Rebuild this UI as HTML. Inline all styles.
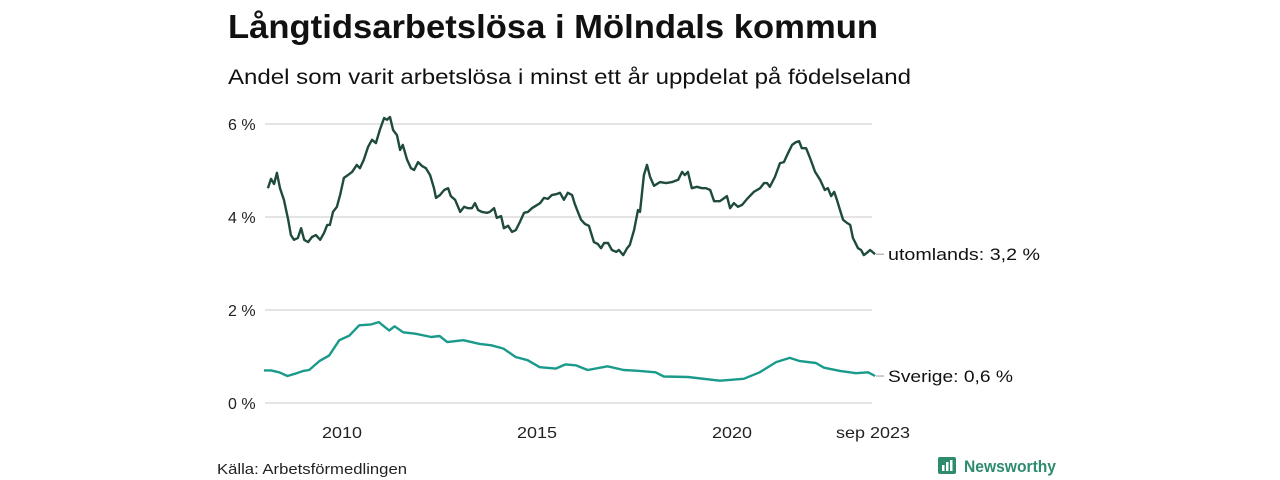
<!DOCTYPE html>
<html><head><meta charset="utf-8"><style>
body{margin:0;background:#fff;width:1280px;height:480px;overflow:hidden;font-family:"Liberation Sans",sans-serif}
svg{position:absolute;left:0;top:0}
</style></head><body>
<svg width="1280" height="480">
<text x="228" y="38" font-size="33" font-weight="bold" fill="#111" textLength="650" lengthAdjust="spacingAndGlyphs">Långtidsarbetslösa i Mölndals kommun</text>
<text x="228" y="84" font-size="21" fill="#111" textLength="683" lengthAdjust="spacingAndGlyphs">Andel som varit arbetslösa i minst ett år uppdelat på födelseland</text>
<g id="grid"></g><g id="series"></g>
<text x="217" y="474" font-size="15" fill="#222" textLength="190" lengthAdjust="spacingAndGlyphs">Källa: Arbetsförmedlingen</text>
<g>
<rect x="938" y="457" width="18" height="17" rx="2" fill="#2e8b6e"/>
<rect x="942" y="465" width="2.5" height="6" fill="#fff"/><rect x="946" y="462" width="2.5" height="9" fill="#fff"/><rect x="950" y="460" width="2.5" height="11" fill="#fff"/>
<text x="964" y="472" font-size="17" font-weight="bold" fill="#2e8b6e" textLength="92" lengthAdjust="spacingAndGlyphs">Newsworthy</text>
</g>
</svg>
<script>
const yTicks=[0,2,4,6];
const xTicks=[2010,2015,2020];
const lastLabel="sep 2023";
const utlDates=[2008.10,2008.18,2008.26,2008.33,2008.41,2008.51,2008.62,2008.69,2008.77,2008.87,2008.95,2009.03,2009.13,2009.23,2009.33,2009.44,2009.54,2009.62,2009.69,2009.77,2009.87,2009.95,2010.05,2010.15,2010.26,2010.38,2010.46,2010.56,2010.67,2010.77,2010.87,2010.97,2011.08,2011.15,2011.23,2011.31,2011.41,2011.49,2011.56,2011.67,2011.77,2011.85,2011.95,2012.05,2012.15,2012.26,2012.36,2012.41,2012.51,2012.62,2012.72,2012.79,2012.90,2013.03,2013.13,2013.23,2013.33,2013.41,2013.49,2013.59,2013.72,2013.79,2013.90,2013.97,2014.08,2014.15,2014.26,2014.36,2014.46,2014.56,2014.67,2014.77,2014.87,2014.97,2015.08,2015.18,2015.28,2015.38,2015.49,2015.59,2015.69,2015.79,2015.90,2015.97,2016.05,2016.13,2016.23,2016.33,2016.46,2016.56,2016.64,2016.72,2016.82,2016.92,2017.03,2017.10,2017.21,2017.31,2017.38,2017.49,2017.59,2017.64,2017.74,2017.82,2017.90,2018.00,2018.15,2018.31,2018.46,2018.62,2018.72,2018.79,2018.87,2018.97,2019.10,2019.23,2019.33,2019.44,2019.54,2019.69,2019.87,2019.95,2020.05,2020.15,2020.26,2020.41,2020.56,2020.72,2020.82,2020.90,2020.97,2021.10,2021.23,2021.33,2021.44,2021.54,2021.64,2021.72,2021.79,2021.90,2022.00,2022.13,2022.26,2022.38,2022.46,2022.54,2022.62,2022.69,2022.77,2022.85,2022.95,2023.03,2023.10,2023.23,2023.31,2023.38,2023.46,2023.54,2023.67];
const utlValues=[4.62,4.82,4.71,4.95,4.62,4.37,3.94,3.61,3.51,3.55,3.76,3.51,3.46,3.57,3.61,3.51,3.66,3.83,3.83,4.11,4.22,4.47,4.84,4.90,4.97,5.12,5.05,5.23,5.51,5.66,5.59,5.87,6.13,6.09,6.15,5.87,5.76,5.44,5.55,5.23,5.05,5.01,5.18,5.10,5.05,4.90,4.62,4.41,4.47,4.58,4.62,4.45,4.37,4.11,4.22,4.19,4.19,4.30,4.15,4.11,4.09,4.11,4.19,3.98,4.02,3.76,3.81,3.68,3.72,3.89,4.09,4.11,4.19,4.24,4.30,4.41,4.39,4.47,4.49,4.52,4.37,4.52,4.47,4.28,4.11,3.94,3.85,3.81,3.46,3.42,3.33,3.44,3.44,3.29,3.25,3.29,3.18,3.33,3.40,3.72,4.15,4.11,4.90,5.12,4.86,4.67,4.75,4.73,4.75,4.80,4.97,4.90,4.97,4.62,4.65,4.62,4.62,4.58,4.34,4.34,4.45,4.19,4.30,4.22,4.26,4.41,4.54,4.62,4.73,4.73,4.65,4.86,5.16,5.18,5.38,5.55,5.61,5.63,5.48,5.48,5.27,4.97,4.80,4.58,4.62,4.45,4.54,4.37,4.15,3.94,3.87,3.83,3.55,3.33,3.29,3.18,3.23,3.29,3.20];
const sveDates=[2008.0,2008.18,2008.39,2008.60,2008.80,2009.01,2009.16,2009.42,2009.67,2009.93,2010.19,2010.44,2010.75,2010.94,2011.21,2011.35,2011.57,2011.88,2012.29,2012.50,2012.70,2013.11,2013.53,2013.83,2014.14,2014.45,2014.76,2015.07,2015.48,2015.73,2015.99,2016.30,2016.81,2017.22,2017.63,2018.04,2018.25,2018.87,2019.69,2020.30,2020.71,2021.13,2021.48,2021.74,2022.15,2022.36,2022.77,2023.18,2023.49,2023.67];
const sveValues=[0.70,0.70,0.66,0.58,0.63,0.69,0.71,0.90,1.02,1.35,1.45,1.67,1.69,1.74,1.56,1.65,1.52,1.49,1.42,1.44,1.31,1.35,1.27,1.24,1.17,0.99,0.92,0.77,0.74,0.83,0.81,0.71,0.79,0.71,0.69,0.66,0.57,0.56,0.48,0.52,0.66,0.88,0.97,0.90,0.86,0.76,0.69,0.64,0.66,0.58];
const labels=["utomlands: 3,2 %","Sverige: 0,6 %"];
const labelWidths=[152,125];
const NS="http://www.w3.org/2000/svg";
const X=t=>342+(t-2010)*39;
const Y=v=>403-v*46.5;
const grid=document.getElementById('grid'),ser=document.getElementById('series');
function mk(tag,attrs,parent){const e=document.createElementNS(NS,tag);for(const k in attrs)e.setAttribute(k,attrs[k]);parent.appendChild(e);return e;}
yTicks.forEach(v=>{
 const l=mk('line',{x1:265,x2:872,y1:Y(v),y2:Y(v),stroke:'#dcdcdc','stroke-width':1.5},grid);
 
 
 const t=mk('text',{x:228,y:Y(v)+6,'font-size':16,fill:'#222'},grid);t.textContent=v+' %';
 
 
});
xTicks.forEach(y=>{
 const t=mk('text',{x:X(y),y:438,'font-size':16,fill:'#222','text-anchor':'middle',textLength:40,lengthAdjust:'spacingAndGlyphs'},grid);t.textContent=y;
 
 
});
const lt=mk('text',{x:873,y:438,'font-size':16,fill:'#222','text-anchor':'middle',textLength:74,lengthAdjust:'spacingAndGlyphs'},grid);lt.textContent=lastLabel;


function line(d,v,color,name,label,w){
 const p=mk('path',{d:d.map((t,i)=>(i?'L':'M')+X(t).toFixed(1)+','+Y(v[i]).toFixed(1)).join(''),fill:'none',stroke:color,'stroke-width':2.4,'stroke-linejoin':'round'},ser);
 
 
 const ly=Y(v[v.length-1]);
 mk('line',{x1:876,x2:884,y1:ly,y2:ly,stroke:'#999','stroke-width':1},ser);
 const t=mk('text',{x:888,y:ly+6,'font-size':17,fill:'#111',textLength:w,lengthAdjust:'spacingAndGlyphs'},ser);t.textContent=label;
 
 
}
line(utlDates,utlValues,'#1f4a3e','series-utomlands',labels[0],labelWidths[0]);
line(sveDates,sveValues,'#1a9a8a','series-sverige',labels[1],labelWidths[1]);
</script>
</body></html>
